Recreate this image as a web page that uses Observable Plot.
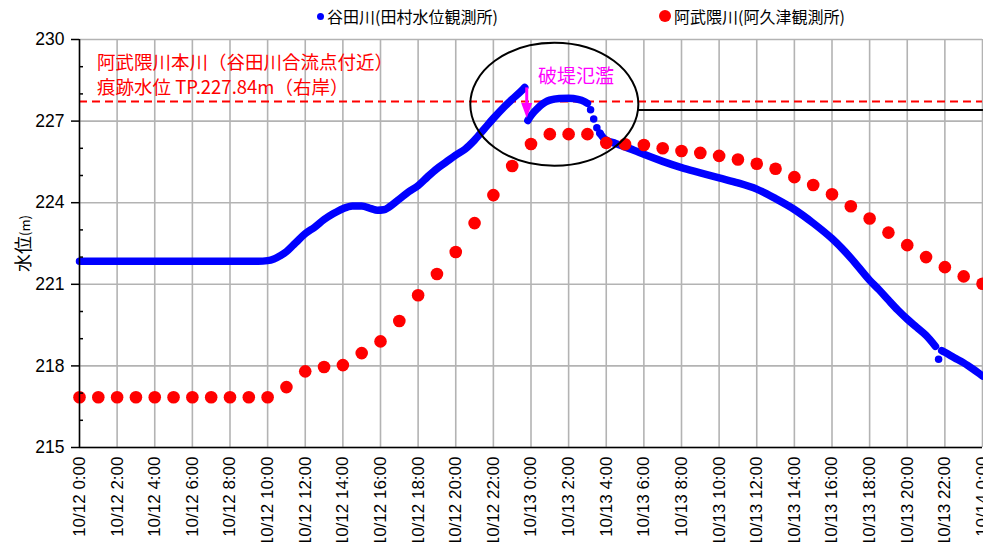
<!DOCTYPE html>
<html><head><meta charset="utf-8">
<script src="https://cdn.jsdelivr.net/npm/d3@7"></script>
<script src="https://cdn.jsdelivr.net/npm/@observablehq/plot@0.6"></script>
<style>
body{margin:0;background:#fff;width:983px;height:542px;overflow:hidden;font-family:"Noto Sans CJK JP",sans-serif;}
#legend{position:relative;height:30px;}
.item{position:absolute;top:6px;font-size:16px;line-height:20px;color:#000;display:flex;align-items:center;white-space:nowrap;}
.sw{display:inline-block;border-radius:50%;margin-right:3px;}
svg{display:block;}
</style></head><body>
<div id="legend">
  <div class="item" style="left:317px"><span class="sw" style="width:7px;height:7px;background:#0000ff"></span><span id="lg1"></span></div>
  <div class="item" style="left:659px"><span class="sw" style="width:12px;height:12px;background:#ff0000"></span><span id="lg2"></span></div>
</div>
<div id="chart"></div>
<script>
// ---- series names ----
const seriesNames = ["谷田川(田村水位観測所)", "阿武隈川(阿久津観測所)"];
const yLabel = "水位(m)";

// ---- 谷田川 (田村水位観測所), 10-min data ----
const tanitaSegA = [
 ["10-12T00:00",221.85],["10-12T09:30",221.85],["10-12T10:00",221.87],["10-12T10:20",221.93],["10-12T10:40",222.05],
 ["10-12T11:00",222.2],["10-12T11:20",222.42],["10-12T11:40",222.65],["10-12T12:00",222.86],["10-12T12:30",223.1],
 ["10-12T13:00",223.38],["10-12T13:30",223.6],["10-12T14:00",223.78],["10-12T14:30",223.88],["10-12T15:00",223.88],
 ["10-12T15:30",223.78],["10-12T15:50",223.72],["10-12T16:10",223.74],["10-12T16:30",223.86],["10-12T17:00",224.13],
 ["10-12T17:30",224.4],["10-12T18:00",224.63],["10-12T18:30",224.95],["10-12T19:00",225.25],["10-12T19:30",225.5],
 ["10-12T20:00",225.75],["10-12T20:30",225.97],["10-12T21:00",226.3],["10-12T21:30",226.7],["10-12T22:00",227.1],
 ["10-12T22:30",227.47],["10-12T23:00",227.8],["10-12T23:30",228.12],["10-12T23:40",228.24]
];
const tanitaSegB = [
 ["10-12T23:50",227.02],["10-13T00:00",227.2],["10-13T00:10",227.34],["10-13T00:20",227.46],["10-13T00:30",227.57],
 ["10-13T00:45",227.69],["10-13T01:00",227.77],["10-13T01:30",227.83],["10-13T02:00",227.84],["10-13T02:30",227.8],
 ["10-13T02:50",227.72],["10-13T03:00",227.65]
];
const tanitaDrop = [
 ["10-13T03:10",227.42],["10-13T03:20",227.08],["10-13T03:30",226.76],["10-13T03:40",226.55]
];
const tanitaSegC = [
 ["10-13T03:40",226.55],["10-13T03:50",226.4],["10-13T04:00",226.3],["10-13T04:30",226.18],["10-13T05:00",226.05],
 ["10-13T05:30",225.92],["10-13T06:00",225.78],["10-13T07:00",225.52],["10-13T08:00",225.29],["10-13T09:00",225.1],
 ["10-13T10:00",224.91],["10-13T11:00",224.73],["10-13T12:00",224.5],["10-13T13:00",224.15],["10-13T14:00",223.75],
 ["10-13T15:00",223.25],["10-13T16:00",222.68],["10-13T17:00",221.97],["10-13T18:00",221.15],["10-13T18:30",220.8],
 ["10-13T19:00",220.42],["10-13T19:30",220.05],["10-13T20:00",219.72],["10-13T20:30",219.42],["10-13T21:00",219.12],
 ["10-13T21:30",218.72]
];
const tanitaOutlier = [["10-13T21:40",218.24]];
const tanitaSegD = [
 ["10-13T21:50",218.56],["10-13T22:00",218.5],["10-13T22:30",218.3],["10-13T23:00",218.11],["10-13T23:30",217.88],
 ["10-14T00:00",217.63]
];

// ---- 阿武隈川 (阿久津観測所), hourly from 10/12 0:00 to 10/14 0:00 ----
const akutsuLevels = [
 216.85,216.85,216.85,216.85,216.85,216.85,216.85,216.85,216.85,216.85,216.85,
 217.22,217.8,217.96,218.03,218.47,218.9,219.65,220.6,221.38,222.19,223.25,224.28,225.35,
 226.16,226.52,226.52,226.52,226.2,226.15,226.12,226.0,225.9,225.83,225.72,225.59,225.43,225.25,
 224.94,224.65,224.31,223.87,223.42,222.9,222.44,222.0,221.63,221.29,221.02
];

// ---- reference levels & annotations ----
const traceLevel = [227.72];              // 痕跡水位 (red dashed)
const blackLevel = [["10-13T05:44",227.41],["10-14T00:00",227.41]];
const ellipseBox = {left:"10-12T20:48", right:"10-13T05:44", top:229.86, bottom:225.34};
const breachArrow = {time:"10-12T23:48", from:228.22, to:227.1};
const notesRed = [
 {time:"10-12T00:56", level:229.13, text:"阿武隈川本川（谷田川合流点付近）"},
 {time:"10-12T00:56", level:228.21, text:"痕跡水位 TP.227.84m（右岸）"}
];
const notesMagenta = [{time:"10-13T00:22", level:228.63, text:"破堤氾濫"}];

// ---- axes ----
const yTicks = [215,218,221,224,227,230];
const yMinor = [216,217,219,220,222,223,225,226,228,229];

const t = s => new Date(`2019-${s}:00Z`);
const start = t("10-12T00:00"), end = t("10-14T00:00");
const xTicks = d3.utcHour.every(2).range(start, new Date(+end + 1));
const fmt = d => `${d.getUTCMonth()+1}/${d.getUTCDate()} ${d.getUTCHours()}:00`;

const toRows = (arr, seg) => arr.map(([s, v]) => ({time: t(s), level: v, seg}));
const blueLine = [...toRows(tanitaSegA,"A"), ...toRows(tanitaSegB,"B"), ...toRows(tanitaSegC,"C"), ...toRows(tanitaSegD,"D")];
const blueDots = [...toRows(tanitaDrop,"drop"), ...toRows(tanitaOutlier,"out")];
const redRows = d3.utcHour.range(start, new Date(+end + 1)).map((d, i) => ({time: d, level: akutsuLevels[i]}));

document.getElementById("lg1").textContent = seriesNames[0];
document.getElementById("lg2").textContent = seriesNames[1];

const numFont = "'Liberation Sans Narrow','Liberation Sans',Arial,sans-serif";
const jpFont = "'Noto Sans CJK JP',sans-serif";
const grid = "#b3b3b3";

const ellipseMark = (index, {x, y}) => {
  const x1 = x(t(ellipseBox.left)), x2 = x(t(ellipseBox.right));
  const y1 = y(ellipseBox.top), y2 = y(ellipseBox.bottom);
  const e = document.createElementNS("http://www.w3.org/2000/svg", "ellipse");
  e.setAttribute("cx", (x1 + x2) / 2); e.setAttribute("cy", (y1 + y2) / 2);
  e.setAttribute("rx", Math.abs(x2 - x1) / 2); e.setAttribute("ry", Math.abs(y2 - y1) / 2);
  e.setAttribute("fill", "none"); e.setAttribute("stroke", "#000"); e.setAttribute("stroke-width", 2);
  return e;
};
const arrowMark = (index, {x, y}) => {
  const ns = "http://www.w3.org/2000/svg";
  const g = document.createElementNS(ns, "g");
  const xx = x(t(breachArrow.time)), ya = y(breachArrow.from), yb = y(breachArrow.to);
  const head = 15, hw = 5.5;
  const l = document.createElementNS(ns, "line");
  l.setAttribute("x1", xx); l.setAttribute("x2", xx); l.setAttribute("y1", ya); l.setAttribute("y2", yb - head + 1);
  l.setAttribute("stroke", "#ff00ff"); l.setAttribute("stroke-width", 3);
  const p = document.createElementNS(ns, "path");
  p.setAttribute("d", `M${xx - hw},${yb - head}L${xx + hw},${yb - head}L${xx},${yb}Z`);
  p.setAttribute("fill", "#ff00ff");
  g.append(l, p);
  return g;
};

const chart = Plot.plot({
  width: 983, height: 512,
  marginTop: 9, marginBottom: 95, marginLeft: 79, marginRight: 1,
  style: {background: "#fff", fontFamily: jpFont},
  x: {type: "utc", domain: [start, end]},
  y: {domain: [215, 230]},
  marks: [
    Plot.gridX(xTicks, {stroke: grid, strokeOpacity: 1, strokeWidth: 1.6}),
    Plot.gridY(yTicks, {stroke: grid, strokeOpacity: 1, strokeWidth: 1.6}),
    Plot.ruleY(traceLevel, {stroke: "#ff0000", strokeWidth: 2, strokeDasharray: "8,5"}),
    Plot.line(blackLevel.map(([s, v]) => ({time: t(s), level: v})), {x: "time", y: "level", stroke: "#000", strokeWidth: 2}),
    Plot.line(blueLine, {x: "time", y: "level", z: "seg", stroke: "#0000ff", strokeWidth: 7.5, strokeLinecap: "round", strokeLinejoin: "round", curve: "monotone-x"}),
    Plot.dot(blueDots, {x: "time", y: "level", r: 3.75, fill: "#0000ff"}),
    Plot.dot(redRows, {x: "time", y: "level", r: 6.3, fill: "#ff0000"}),
    ellipseMark,
    arrowMark,
    Plot.text(notesRed, {x: d => t(d.time), y: "level", text: "text", textAnchor: "start", fill: "#ff0000", fontSize: 18.5, fontFamily: jpFont}),
    Plot.text(notesMagenta, {x: d => t(d.time), y: "level", text: "text", textAnchor: "start", fill: "#ff00ff", fontSize: 19, fontFamily: jpFont}),
    Plot.axisX({ticks: xTicks, tickFormat: fmt, tickRotate: -90, tickSize: 0, tickPadding: 9, fontSize: 17, fontFamily: numFont, label: null}),
    Plot.axisY({ticks: yTicks, tickSize: 8, tickPadding: 7, fontSize: 17.5, fontFamily: numFont, label: null, strokeWidth: 1.5}),
    Plot.axisY({ticks: yMinor, tickSize: -4, tickFormat: () => "", label: null, strokeWidth: 1.5}),
    Plot.text([yLabel], {frameAnchor: "left", textAnchor: "middle", rotate: -90, dx: -55, fontSize: 18, fontFamily: jpFont, fill: "#000"}),
    Plot.ruleX([start], {stroke: "#000", strokeWidth: 1.5}),
    Plot.ruleY([215], {stroke: "#000", strokeWidth: 1.5})
  ]
});
document.getElementById("chart").append(chart);
chart.querySelectorAll('text').forEach(n => {
  if (n.textContent === yLabel) n.innerHTML = '水位<tspan font-size="13">(m)</tspan>';
});
</script>
</body></html>
